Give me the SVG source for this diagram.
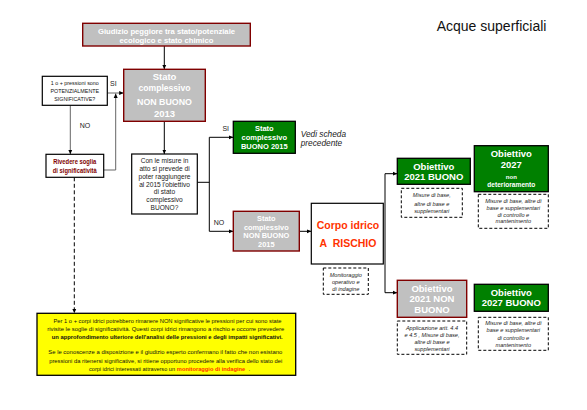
<svg xmlns="http://www.w3.org/2000/svg" width="587" height="410" viewBox="0 0 587 410">
<defs>
<style>
text{font-family:"Liberation Sans",Arial,sans-serif;text-anchor:middle}
.w{fill:#fff;font-weight:bold}
.gbox{fill:#c0c0c0;stroke:#800000;stroke-width:1.4}
.grn{fill:#008000;stroke:#000;stroke-width:1.3}
.wbox{fill:#fff;stroke:#000;stroke-width:1.2}
.dash{fill:#fff;stroke:#000;stroke-width:1;stroke-dasharray:3,2}
.it{font-style:italic;font-size:5.6px;fill:#222}
.ln{fill:none;stroke:#000;stroke-width:1}
.lg{fill:none;stroke:#666;stroke-width:1}
.lbl{font-size:7px;fill:#222}
.y{font-size:6px;fill:#111}
</style>
<marker id="a" markerUnits="userSpaceOnUse" markerWidth="5" markerHeight="5" refX="4.5" refY="2.5" orient="auto">
<path d="M0,0.5 L4.5,2.5 L0,4.5 z" fill="#000"/>
</marker>
</defs>
<rect width="587" height="410" fill="#fff"/>
<text x="436.7" y="31" style="text-anchor:start;font-size:14px;fill:#111">Acque superficiali</text>

<g id="connectors">
<line class="ln" x1="164.3" y1="46" x2="164.3" y2="69.3" marker-end="url(#a)"/>
<line class="lg" x1="107.3" y1="93" x2="123.7" y2="93" marker-end="url(#a)"/>
<polyline class="lg" points="103.7,170 115.7,170 115.7,93.5" marker-end="url(#a)"/>
<line class="lg" x1="70.3" y1="105.3" x2="70.3" y2="154.3" marker-end="url(#a)"/>
<line class="ln" x1="74.3" y1="177.3" x2="74.3" y2="313.3" stroke-dasharray="4,2.5" marker-end="url(#a)"/>
<line class="ln" x1="164.3" y1="121.3" x2="164.3" y2="154" marker-end="url(#a)"/>
<line class="ln" x1="197.3" y1="182.3" x2="209.3" y2="182.3"/>
<line class="ln" x1="209.3" y1="137.3" x2="209.3" y2="231.3"/>
<line class="ln" x1="209.3" y1="137.3" x2="233.3" y2="137.3" marker-end="url(#a)"/>
<line class="ln" x1="209.3" y1="231.3" x2="233.3" y2="231.3" marker-end="url(#a)"/>
<line class="ln" x1="299.3" y1="231.3" x2="311.3" y2="231.3" marker-end="url(#a)"/>
<line class="ln" x1="385" y1="173.7" x2="385" y2="292.7"/>
<line class="ln" x1="385" y1="173.7" x2="397.3" y2="173.7" marker-end="url(#a)"/>
<line class="ln" x1="385" y1="292.7" x2="397.3" y2="292.7" marker-end="url(#a)"/>
<text class="lbl" x="113.3" y="86">SI</text>
<text class="lbl" x="85" y="127.5">NO</text>
<text class="lbl" x="225.7" y="130.5">SI</text>
<text class="lbl" x="219" y="224.8">NO</text>
</g>

<g id="n-giudizio">
<rect class="gbox" x="82.7" y="23.3" width="167.6" height="22.7"/>
<text class="w" x="166.5" y="33.8" style="font-size:7.7px">Giudizio peggiore tra stato/potenziale</text>
<text class="w" x="166.5" y="42.6" style="font-size:7.7px">ecologico e stato chimico</text>
</g>

<g id="n-stato2013">
<rect class="gbox" x="123.7" y="69.3" width="81.6" height="52"/>
<text class="w" x="164.5" y="80" style="font-size:9.5px">Stato</text>
<text class="w" x="164.5" y="91.3" style="font-size:9.5px" textLength="52" lengthAdjust="spacingAndGlyphs">complessivo</text>
<text class="w" x="164.5" y="105.3" style="font-size:9.5px" textLength="55" lengthAdjust="spacingAndGlyphs">NON BUONO</text>
<text class="w" x="164.5" y="117" style="font-size:9.5px">2013</text>
</g>

<g id="n-pressioni">
<rect class="wbox" x="42.3" y="76.3" width="65" height="29"/>
<text x="74.8" y="84.5" style="font-size:5.6px;fill:#111" textLength="48" lengthAdjust="spacingAndGlyphs">1 o + pressioni sono</text>
<text x="74.8" y="92.6" style="font-size:6px;fill:#111" textLength="48.7" lengthAdjust="spacingAndGlyphs">POTENZIALMENTE</text>
<text x="74.8" y="101" style="font-size:6px;fill:#111" textLength="41" lengthAdjust="spacingAndGlyphs">SIGNIFICATIVE?</text>
</g>

<g id="n-rivedere">
<rect class="wbox" x="46" y="154.3" width="57.7" height="23"/>
<text x="74.8" y="164.3" style="font-size:6.6px;font-weight:bold;fill:#800000" textLength="43" lengthAdjust="spacingAndGlyphs">Rivedere soglia</text>
<text x="74.8" y="173" style="font-size:6.6px;font-weight:bold;fill:#800000" textLength="44" lengthAdjust="spacingAndGlyphs">di significatività</text>
</g>

<g id="n-misure" style="font-size:6.6px;fill:#222">
<rect class="wbox" x="131.7" y="154" width="65.6" height="60"/>
<text x="164.5" y="163">Con le misure in</text>
<text x="164.5" y="171">atto si prevede di</text>
<text x="164.5" y="179">poter raggiungere</text>
<text x="164.5" y="186.7">al 2015 l'obiettivo</text>
<text x="164.5" y="194.4">di stato</text>
<text x="164.5" y="202.3">complessivo</text>
<text x="164.5" y="210.3">BUONO?</text>
</g>

<g id="n-buono2015">
<rect class="grn" x="233.3" y="121.3" width="62" height="32"/>
<text class="w" x="264.3" y="131" style="font-size:7.5px">Stato</text>
<text class="w" x="264.3" y="139.7" style="font-size:7.5px">complessivo</text>
<text class="w" x="264.3" y="149" style="font-size:7.5px">BUONO 2015</text>
</g>
<g id="n-vedi">
<text x="300.7" y="136.8" style="text-anchor:start;font-size:8.3px;font-style:italic;fill:#222">Vedi scheda</text>
<text x="300.7" y="146.3" style="text-anchor:start;font-size:8.3px;font-style:italic;fill:#222">precedente</text>
</g>

<g id="n-nonbuono2015">
<rect class="gbox" x="233.3" y="211.3" width="66" height="39.7"/>
<text class="w" x="266.3" y="221.3" style="font-size:7.4px">Stato</text>
<text class="w" x="266.3" y="229.9" style="font-size:7.4px">complessivo</text>
<text class="w" x="266.3" y="238.3" style="font-size:7.4px">NON BUONO</text>
<text class="w" x="266.3" y="246.9" style="font-size:7.4px">2015</text>
</g>

<g id="n-corpo">
<rect class="wbox" x="311.3" y="203.3" width="72" height="60.7"/>
<text x="348" y="229.4" style="font-size:10.5px;font-weight:bold;fill:#ff3300">Corpo idrico</text>
<text x="348" y="247" xml:space="preserve" style="font-size:10.5px;font-weight:bold;fill:#ff3300">A  RISCHIO</text>
</g>

<g id="n-monitoraggio">
<rect class="dash" x="323.3" y="268" width="45" height="26.3"/>
<text class="it" x="345.8" y="277">Monitoraggio</text>
<text class="it" x="345.8" y="284">operativo e</text>
<text class="it" x="345.8" y="290.7">di indagine</text>
</g>

<g id="n-ob2021buono">
<rect class="grn" x="397.3" y="158.3" width="73" height="26"/>
<text class="w" x="433.8" y="170" style="font-size:9.5px">Obiettivo</text>
<text class="w" x="433.8" y="180" style="font-size:9.5px">2021 BUONO</text>
</g>
<g id="n-m1">
<rect class="dash" x="401.3" y="188.3" width="61" height="29"/>
<text class="it" x="431.8" y="197">Misure di base,</text>
<text class="it" x="431.8" y="205.7">altre di base e</text>
<text class="it" x="431.8" y="213">supplementari</text>
</g>

<g id="n-ob2027nd">
<rect class="grn" x="474.3" y="145.7" width="74" height="46"/>
<text class="w" x="511.3" y="157.3" style="font-size:9.5px">Obiettivo</text>
<text class="w" x="511.3" y="168" style="font-size:9.5px">2027</text>
<text class="w" x="511.3" y="179.4" style="font-size:6px">non</text>
<text class="w" x="511.3" y="186.6" style="font-size:6.6px">deterioramento</text>
</g>
<g id="n-m2">
<rect class="dash" x="478.3" y="194.3" width="70" height="34"/>
<text class="it" x="513.3" y="203">Misure di base, altre di</text>
<text class="it" x="513.3" y="209.7">base e supplementari</text>
<text class="it" x="513.3" y="216.7">di controllo e</text>
<text class="it" x="513.3" y="223.3">mantenimento</text>
</g>

<g id="n-ob2021nonbuono">
<rect class="gbox" x="397.3" y="280.3" width="69.4" height="37"/>
<text class="w" x="432" y="291.6" style="font-size:9.5px">Obiettivo</text>
<text class="w" x="432" y="302" style="font-size:9.5px">2021 NON</text>
<text class="w" x="432" y="312.6" style="font-size:9.5px">BUONO</text>
</g>
<g id="n-m3">
<rect class="dash" x="397.3" y="321" width="69.4" height="33.3"/>
<text class="it" x="432" y="330">Applicazione artt. 4.4</text>
<text class="it" x="432" y="337">e 4.5 , Misure di base,</text>
<text class="it" x="432" y="344">altre di base e</text>
<text class="it" x="432" y="351">supplementari</text>
</g>

<g id="n-ob2027buono">
<rect class="grn" x="474.3" y="284.3" width="74" height="27"/>
<text class="w" x="511.3" y="296.3" style="font-size:9.5px">Obiettivo</text>
<text class="w" x="511.3" y="306" style="font-size:9.5px">2027 BUONO</text>
</g>
<g id="n-m4">
<rect class="dash" x="478.3" y="317.3" width="70" height="33"/>
<text class="it" x="513.3" y="325.3">Misure di base, altre di</text>
<text class="it" x="513.3" y="332.3">base e supplementari</text>
<text class="it" x="513.3" y="340">di controllo e</text>
<text class="it" x="513.3" y="347">mantenimento</text>
</g>

<g id="n-nota">
<rect x="37" y="313.3" width="258.7" height="62" fill="#ffff00" stroke="#000" stroke-width="1.3"/>
<text class="y" x="167.5" y="323.2" textLength="228" lengthAdjust="spacingAndGlyphs">Per 1 o + corpi idrici potrebbero rimanere NON significative le pressioni per cui sono state</text>
<text class="y" x="165.8" y="331.2" textLength="237" lengthAdjust="spacingAndGlyphs">rivisite le soglie di significatività. Questi corpi idrici rimangono a rischio e occorre prevedere</text>
<text class="y" x="167.2" y="338.9" textLength="231" lengthAdjust="spacingAndGlyphs" style="font-weight:bold">un approfondimento ulteriore dell'analisi delle pressioni e degli impatti significativi.</text>
<text class="y" x="165.3" y="354.2" textLength="234" lengthAdjust="spacingAndGlyphs">Se le conoscenze a disposizione e il giudizio esperto confermano il fatto che non esistano</text>
<text class="y" x="165.7" y="362.5" textLength="233" lengthAdjust="spacingAndGlyphs">pressioni da ritenersi significative, si ritiene opportuno procedere alla verifica dello stato dei</text>
<text class="y" x="89" y="370.9" style="text-anchor:start" textLength="86" lengthAdjust="spacingAndGlyphs">corpi idrici interessati attraverso un</text>
<text class="y" x="176.8" y="370.9" style="text-anchor:start;fill:#ff3300;font-weight:bold" textLength="68.5" lengthAdjust="spacingAndGlyphs">monitoraggio di indagine</text>
<text class="y" x="248.6" y="370.9" style="text-anchor:start">.</text>
</g>
</svg>
